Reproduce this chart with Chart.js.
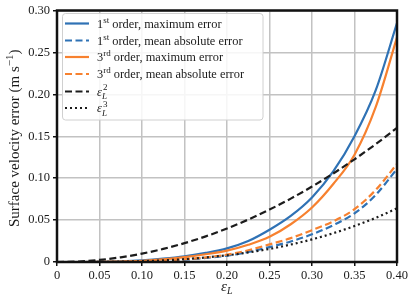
<!DOCTYPE html>
<html>
<head>
<meta charset="utf-8">
<script src="https://cdn.jsdelivr.net/npm/chart.js@4.4.1/dist/chart.umd.min.js"></script>
<style>
  html, body { margin: 0; padding: 0; background: #fff; }
</style>
</head>
<body>
<canvas id="errChart" width="410" height="298"></canvas>
<script>
// values
var epsL = [0, 0.025, 0.05, 0.075, 0.10, 0.125, 0.15, 0.175, 0.20, 0.225, 0.25, 0.275, 0.30, 0.325, 0.35, 0.375, 0.40];
var firstMax = [0, 0, 0.0002, 0.0008, 0.0020, 0.0040, 0.0068, 0.0108, 0.0162, 0.0250, 0.0385, 0.0550, 0.0770, 0.1080, 0.1500, 0.2050, 0.2850];
var firstMean = [0, 0, 0.0001, 0.0003, 0.0007, 0.0015, 0.0028, 0.0048, 0.0075, 0.0120, 0.0178, 0.0245, 0.0330, 0.0440, 0.0580, 0.0800, 0.1110];
var thirdMax = [0, 0, 0.0001, 0.0006, 0.0015, 0.0032, 0.0058, 0.0092, 0.0135, 0.0205, 0.0300, 0.0450, 0.0650, 0.0930, 0.1280, 0.1850, 0.2680];
var thirdMean = [0, 0, 0.0001, 0.0003, 0.0008, 0.0018, 0.0033, 0.0055, 0.0088, 0.0140, 0.0210, 0.0285, 0.0380, 0.0485, 0.0630, 0.0860, 0.1170];
var epsSq = [0, 0.0006, 0.0025, 0.0056, 0.0100, 0.0156, 0.0225, 0.0306, 0.0400, 0.0506, 0.0625, 0.0756, 0.0900, 0.1056, 0.1225, 0.1406, 0.1600];
var epsCube = [0, 0, 0.0001, 0.0004, 0.0010, 0.0020, 0.0034, 0.0054, 0.0080, 0.0114, 0.0156, 0.0208, 0.0270, 0.0343, 0.0429, 0.0527, 0.0640];

var xTicks = [0, 0.05, 0.10, 0.15, 0.20, 0.25, 0.30, 0.35, 0.40];
var xTickLabels = ["0", "0.05", "0.10", "0.15", "0.20", "0.25", "0.30", "0.35", "0.40"];
var yTicks = [0, 0.05, 0.10, 0.15, 0.20, 0.25, 0.30];
var yTickLabels = ["0", "0.05", "0.10", "0.15", "0.20", "0.25", "0.30"];

var serif = '"Liberation Serif", "Times New Roman", serif';
var textColor = "#1a1a1a";
var blue = "#2f72b5";
var orange = "#f7812f";
var black = "#1c1c1c";
var dashed = [7, 3.5];
var dotted = [2, 3];

function pts(ys) {
  return epsL.map(function (x, i) { return { x: x, y: ys[i] }; });
}

// legend text: pieces with sup/sub
var legendItems = [
  { color: blue, dash: [], parts: [{ t: "1" }, { t: "st", k: "sup" }, { t: " order, maximum error" }] },
  { color: blue, dash: dashed, parts: [{ t: "1" }, { t: "st", k: "sup" }, { t: " order, mean absolute error" }] },
  { color: orange, dash: [], parts: [{ t: "3" }, { t: "rd", k: "sup" }, { t: " order, maximum error" }] },
  { color: orange, dash: dashed, parts: [{ t: "3" }, { t: "rd", k: "sup" }, { t: " order, mean absolute error" }] },
  { color: black, dash: dashed, parts: [{ t: "ε", k: "it" }, { t: "2", s: "L", k: "supsub" }] },
  { color: black, dash: dotted, parts: [{ t: "ε", k: "it" }, { t: "3", s: "L", k: "supsub" }] }
];

function partsWidth(ctx, parts, size) {
  var w = 0;
  parts.forEach(function (p) {
    if (p.k === "sup") { ctx.font = Math.round(size * 0.72) + "px " + serif; }
    else if (p.k === "supsub") { ctx.font = "italic " + Math.round(size * 0.72) + "px " + serif; }
    else if (p.k === "it") { ctx.font = "italic " + size + "px " + serif; }
    else { ctx.font = size + "px " + serif; }
    w += ctx.measureText(p.t).width;
  });
  return w;
}

function drawParts(ctx, parts, x, y, size) {
  var small = Math.round(size * 0.72);
  parts.forEach(function (p) {
    if (p.k === "sup") {
      ctx.font = small + "px " + serif;
      ctx.fillText(p.t, x, y - size * 0.38);
      x += ctx.measureText(p.t).width;
    } else if (p.k === "supsub") {
      ctx.font = small + "px " + serif;
      ctx.fillText(p.t, x + 1, y - size * 0.42);
      ctx.font = "italic " + small + "px " + serif;
      ctx.fillText(p.s, x, y + size * 0.3);
      x += ctx.measureText(p.s).width + 1;
    } else if (p.k === "it") {
      ctx.font = "italic " + size + "px " + serif;
      ctx.fillText(p.t, x, y);
      x += ctx.measureText(p.t).width;
    } else {
      ctx.font = size + "px " + serif;
      ctx.fillText(p.t, x, y);
      x += ctx.measureText(p.t).width;
    }
  });
}

var extrasPlugin = {
  id: "extras",
  afterDraw: function (chart) {
    var ctx = chart.ctx;
    var a = chart.chartArea;
    ctx.save();

    // legend box
    ctx.fillStyle = "rgba(255,255,255,0.85)";
    ctx.strokeStyle = "#d0d0d0";
    ctx.lineWidth = 1;
    ctx.beginPath();
    ctx.roundRect(62.5, 13.5, 200.5, 106.5, 3);
    ctx.fill();
    ctx.stroke();

    var rowY = [23.5, 40.5, 57, 74, 91.5, 108];
    legendItems.forEach(function (it, i) {
      ctx.strokeStyle = it.color;
      ctx.lineWidth = 2.2;
      ctx.setLineDash(it.dash);
      ctx.beginPath();
      ctx.moveTo(65, rowY[i]);
      ctx.lineTo(89, rowY[i]);
      ctx.stroke();
      ctx.setLineDash([]);
      ctx.fillStyle = textColor;
      ctx.textBaseline = "alphabetic";
      ctx.textAlign = "left";
      drawParts(ctx, it.parts, 97, rowY[i] + 4, 12.4);
    });

    // frame
    ctx.strokeStyle = "#111";
    ctx.lineWidth = 2.5;
    ctx.strokeRect(a.left, a.top, a.right - a.left, a.bottom - a.top);

    // y title
    var yParts = [{ t: "Surface velocity error (m s" }, { t: "−1", k: "sup" }, { t: ")" }];
    ctx.fillStyle = textColor;
    ctx.translate(19, (a.top + a.bottom) / 2 + 2);
    ctx.rotate(-Math.PI / 2);
    var w = partsWidth(ctx, yParts, 15);
    drawParts(ctx, yParts, -w / 2, 0, 15);
    ctx.setTransform(1, 0, 0, 1, 0, 0);

    // x title
    var cx = (a.left + a.right) / 2;
    ctx.font = "italic 15px " + serif;
    var ew = ctx.measureText("ε").width;
    ctx.fillText("ε", cx - 6, 291);
    ctx.font = "italic 10px " + serif;
    ctx.fillText("L", cx - 6 + ew, 294);

    ctx.restore();
  }
};

var ctx = document.getElementById("errChart").getContext("2d");
var errChart = new Chart(ctx, {
  type: "line",
  data: {
    datasets: [
      { data: pts(firstMax), borderColor: blue, borderWidth: 2.2, order: 6 },
      { data: pts(firstMean), borderColor: blue, borderWidth: 2.2, borderDash: dashed, order: 5 },
      { data: pts(thirdMax), borderColor: orange, borderWidth: 2.2, order: 4 },
      { data: pts(thirdMean), borderColor: orange, borderWidth: 2.2, borderDash: dashed, order: 3 },
      { data: pts(epsSq), borderColor: black, borderWidth: 2.2, borderDash: dashed, order: 2 },
      { data: pts(epsCube), borderColor: black, borderWidth: 2.2, borderDash: dotted, order: 1 }
    ]
  },
  options: {
    responsive: false,
    animation: false,
    datasets: { line: { pointRadius: 0, fill: false, cubicInterpolationMode: "monotone" } },
    layout: { padding: { left: 17, right: 13, top: 7.5, bottom: 8 } },
    plugins: { legend: { display: false }, tooltip: { enabled: false } },
    scales: {
      x: {
        type: "linear", min: 0, max: 0.4,
        afterBuildTicks: function (s) { s.ticks = xTicks.map(function (v) { return { value: v }; }); },
        afterFit: function (s) { s.height = 28; },
        ticks: {
          autoSkip: false, maxRotation: 0, padding: 2, color: textColor,
          font: { family: serif, size: 12.5 },
          callback: function (v, i) { return xTickLabels[i]; }
        },
        grid: { color: "#c2c2c2", lineWidth: 1.5, tickColor: "#111", tickLength: 4, tickWidth: 1.5 },
        border: { display: false }
      },
      y: {
        type: "linear", min: 0, max: 0.3,
        afterBuildTicks: function (s) { s.ticks = yTicks.map(function (v) { return { value: v }; }); },
        afterFit: function (s) { s.width = 40; },
        ticks: {
          autoSkip: false, padding: 3, color: textColor,
          font: { family: serif, size: 12.5 },
          callback: function (v, i) { return yTickLabels[i]; }
        },
        grid: { color: "#c2c2c2", lineWidth: 1.5, tickColor: "#111", tickLength: 4, tickWidth: 1.5 },
        border: { display: false }
      }
    }
  },
  plugins: [extrasPlugin]
});
</script>
</body>
</html>
